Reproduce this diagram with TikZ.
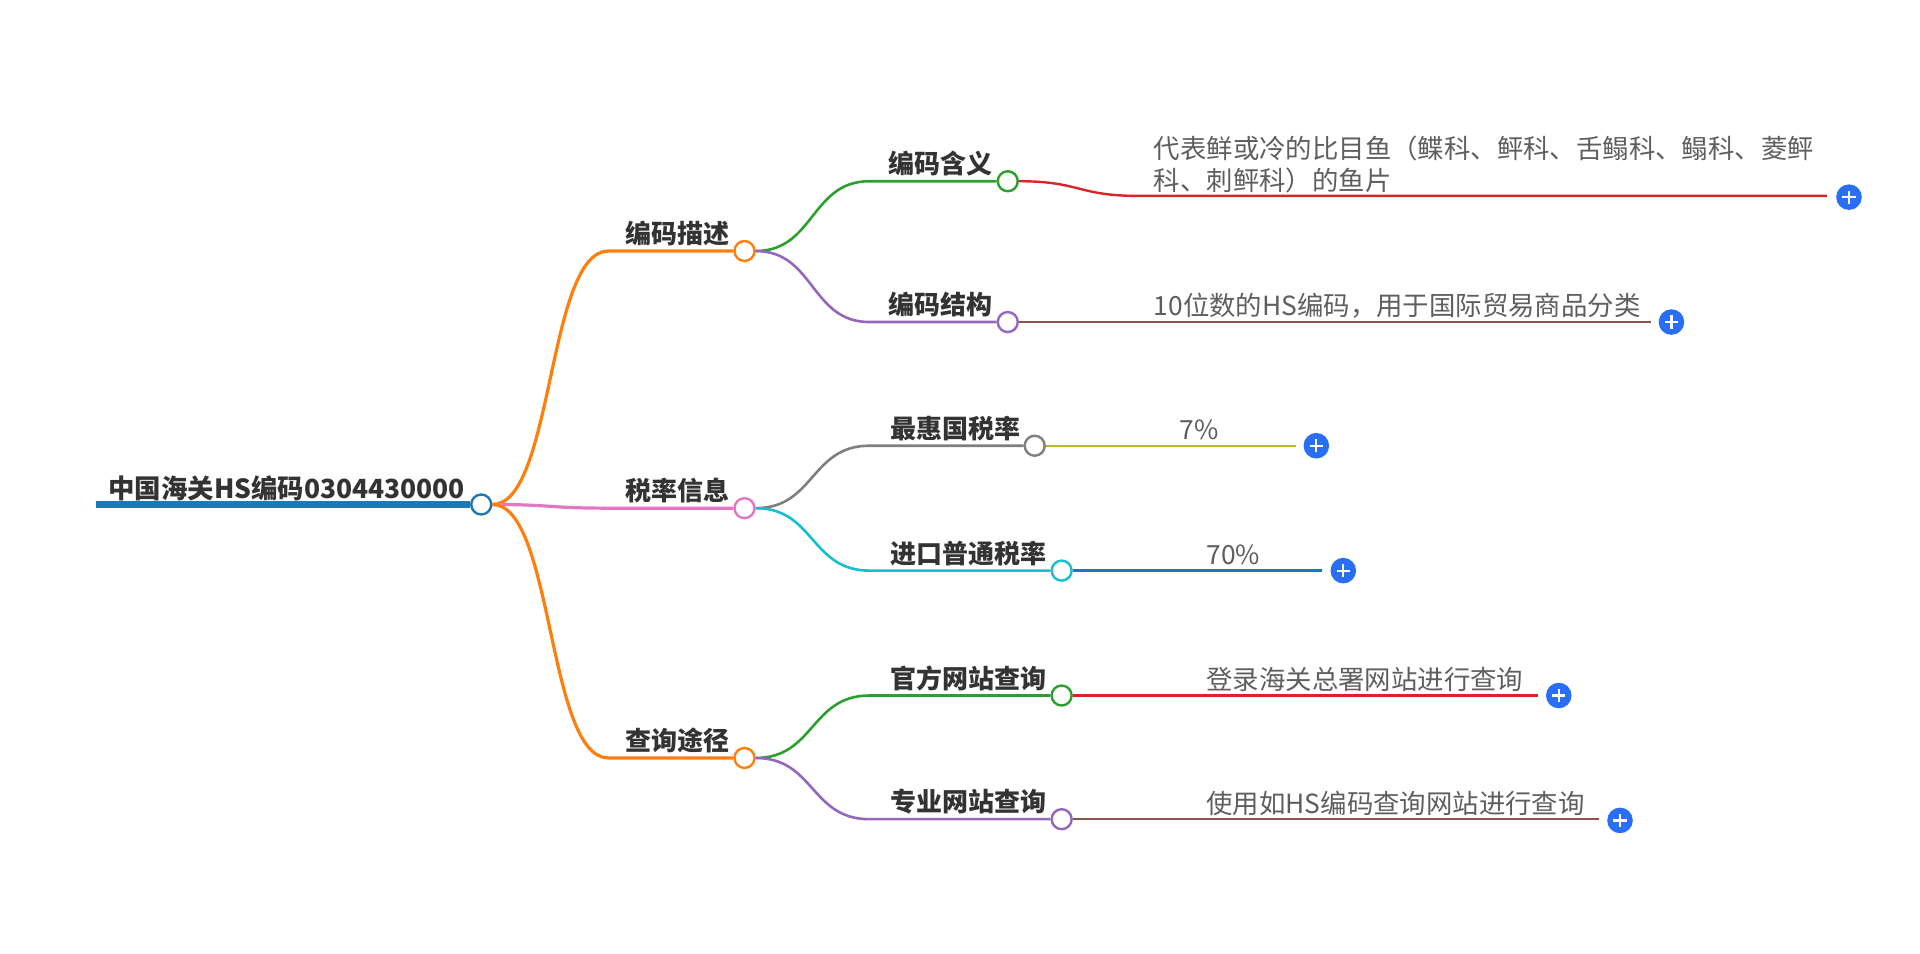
\documentclass[tikz,border=0pt]{standalone}
\usepackage{fontspec}
\setmainfont{Noto Sans CJK SC}
\usetikzlibrary{calc}
\definecolor{cblue}{HTML}{1F77B4}
\definecolor{corange}{HTML}{FF7F0E}
\definecolor{cpink}{HTML}{E377C2}
\definecolor{cgreen}{HTML}{2CA02C}
\definecolor{cpurple}{HTML}{9467BD}
\definecolor{cgray}{HTML}{7F7F7F}
\definecolor{ccyan}{HTML}{17BECF}
\definecolor{cred}{HTML}{D62728}
\definecolor{cbrown}{HTML}{8C564B}
\definecolor{colive}{HTML}{BCBD22}
\definecolor{plusblue}{HTML}{2A6EF5}
\definecolor{textdark}{HTML}{333333}
\definecolor{leafgray}{HTML}{5E5E5E}
\begin{document}
\begin{tikzpicture}[x=0.61225pt,y=-0.61225pt,
  dot/.style={circle, draw=#1, fill=white, line width=1.2pt, minimum size=10pt, inner sep=0pt},
  plusbtn/.style={circle, fill=plusblue, minimum size=12.8pt, inner sep=0pt,
    path picture={\draw[white,line width=1.1pt] (path picture bounding box.center) +(-3.3pt,0) -- +(3.3pt,0) +(0,-3.3pt) -- +(0,3.3pt);}},
  rootlbl/.style={font=\bfseries\fontsize{13.2pt}{16pt}\selectfont, text=textdark, inner sep=0pt, anchor=base east},
  boldlbl/.style={font=\bfseries\fontsize{13pt}{15pt}\selectfont, text=textdark, inner sep=0pt, anchor=base east},
  leaflbl/.style={font=\fontsize{13.2pt}{16pt}\selectfont, text=leafgray, inner sep=0pt, anchor=base west},
  e1/.style={line width=1.6pt, draw=#1},
  e2/.style={line width=1.3pt, draw=#1},
  e3/.style={line width=1.2pt, draw=#1},
]
\useasboundingbox (0,0) rectangle (1568,778.3);

% root
\coordinate (rootstart) at (78,412);
\node[dot=cblue] (R) at (393,412) {};
\draw[line width=3.2pt, cblue] (rootstart) -- (R.west);
\node[rootlbl] (Rt) at (380,407) {中国海关HS编码0304430000};

% level 1
\node[dot=corange] (A) at (608,205) {};
\node[dot=cpink] (B) at (608,415) {};
\node[dot=corange] (C) at (608,619) {};
\node[boldlbl] (At) at (596,199) {编码描述};
\node[boldlbl] (Bt) at (596,409) {税率信息};
\node[boldlbl] (Ct) at (596,613) {查询途径};
\draw[e1=corange] (R.east) .. controls +(50,0) and +(-50,0) .. ($(A.west)+(-102,0)$) -- (A.west);
\draw[e1=cpink] (R.east) .. controls +(50,0) and +(-50,0) .. ($(B.west)+(-102,0)$) -- (B.west);
\draw[e1=corange] (R.east) .. controls +(50,0) and +(-50,0) .. ($(C.west)+(-102,0)$) -- (C.west);

% level 2
\node[dot=cgreen] (A1) at (823,148) {};
\node[dot=cpurple] (A2) at (823,263) {};
\node[dot=cgray] (B1) at (845,364) {};
\node[dot=ccyan] (B2) at (867,466) {};
\node[dot=cgreen] (C1) at (867,568) {};
\node[dot=cpurple] (C2) at (867,669) {};
\node[boldlbl] (A1t) at (811,142) {编码含义};
\node[boldlbl] (A2t) at (811,257) {编码结构};
\node[boldlbl] (B1t) at (834,358) {最惠国税率};
\node[boldlbl] (B2t) at (855,460) {进口普通税率};
\node[boldlbl] (C1t) at (855,562) {官方网站查询};
\node[boldlbl] (C2t) at (855,663) {专业网站查询};
\coordinate (a1s) at (710,148);
\coordinate (a2s) at (710,263);
\coordinate (b1s) at (710,364);
\coordinate (b2s) at (710,466);
\coordinate (c1s) at (710,568);
\coordinate (c2s) at (710,669);
\draw[e2=cgreen] (A.east) .. controls +(48,0) and +(-48,0) .. (a1s) -- (A1.west);
\draw[e2=cpurple] (A.east) .. controls +(48,0) and +(-48,0) .. (a2s) -- (A2.west);
\draw[e2=cgray] (B.east) .. controls +(48,0) and +(-48,0) .. (b1s) -- (B1.west);
\draw[e2=ccyan] (B.east) .. controls +(48,0) and +(-48,0) .. (b2s) -- (B2.west);
\draw[e2=cgreen] (C.east) .. controls +(48,0) and +(-48,0) .. (c1s) -- (C1.west);
\draw[e2=cpurple] (C.east) .. controls +(48,0) and +(-48,0) .. (c2s) -- (C2.west);

% leaves
\coordinate (a1m) at (930,160);
\coordinate (a1e) at (1492,160);
\coordinate (a2e) at (1348,263);
\coordinate (b1e) at (1058,364);
\coordinate (b2e) at (1080,466);
\coordinate (c1e) at (1256,568);
\coordinate (c2e) at (1306,669);
\draw[e3=cred] (A1.east) .. controls +(50,0) and +(-50,0) .. (a1m) -- (a1e);
\draw[e3=cbrown] (A2.east) -- (a2e);
\draw[e3=colive] (B1.east) -- (b1e);
\draw[e3=cblue] (B2.east) -- (b2e);
\draw[e3=cred] (C1.east) -- (c1e);
\draw[e3=cbrown] (C2.east) -- (c2e);

\node[leaflbl, anchor=south west, align=left] (L1) at (942,158) {代表鲜或冷的比目鱼（鲽科、鲆科、舌鳎科、鳎科、菱鲆\\科、刺鲆科）的鱼片};
\node[leaflbl] (L2) at (942,258) {10位数的HS编码，用于国际贸易商品分类};
\node[leaflbl] (L3) at (963,359) {7\%};
\node[leaflbl] (L4) at (985,461) {70\%};
\node[leaflbl] (L5) at (985,563) {登录海关总署网站进行查询};
\node[leaflbl] (L6) at (985,664) {使用如HS编码查询网站进行查询};

\node[plusbtn] (P1) at (1510,161) {};
\node[plusbtn] (P2) at (1365,263) {};
\node[plusbtn] (P3) at (1075,364) {};
\node[plusbtn] (P4) at (1097,466) {};
\node[plusbtn] (P5) at (1273,568) {};
\node[plusbtn] (P6) at (1323,670) {};
\end{tikzpicture}
\end{document}
